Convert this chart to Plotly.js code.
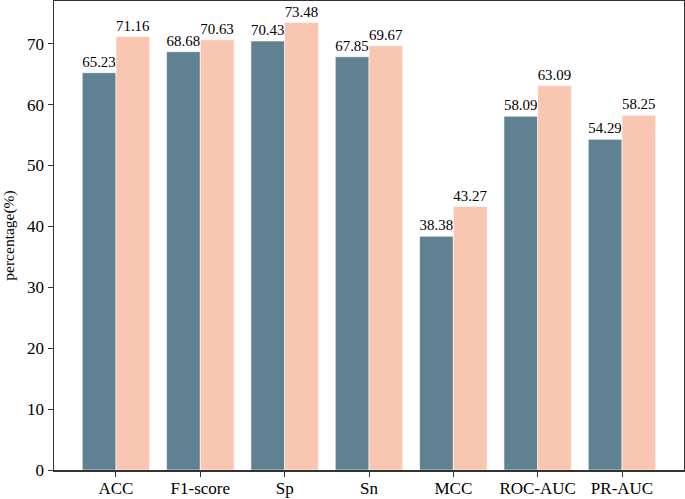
<!DOCTYPE html>
<html>
<head>
<meta charset="utf-8">
<script src="https://cdn.plot.ly/plotly-3.0.1.min.js"></script>
<style>html,body{margin:0;padding:0;background:#fff;}</style>
</head>
<body>
<div id="chart" style="width:685px;height:499px;"></div>
<script>
const categories = ["ACC", "F1-score", "Sp", "Sn", "MCC", "ROC-AUC", "PR-AUC"];
const seriesA = [65.23, 68.68, 70.43, 67.85, 38.38, 58.09, 54.29];
const seriesB = [71.16, 70.63, 73.48, 69.67, 43.27, 63.09, 58.25];
const yTicks = [0, 10, 20, 30, 40, 50, 60, 70];

const font = "Liberation Serif, Times New Roman, serif";
const fmt = v => v.toFixed(2);

const traces = [
  {
    type: "bar", x: categories, y: seriesA, name: "A",
    marker: {color: "#5f8191", line: {color: "#ffffff", width: 0.6}},
    text: seriesA.map(fmt), textposition: "outside", cliponaxis: false,
    textfont: {family: font, size: 15.5, color: "#000"}
  },
  {
    type: "bar", x: categories, y: seriesB, name: "B",
    marker: {color: "#f8c6b1", line: {color: "#ffffff", width: 0.6}},
    text: seriesB.map(fmt), textposition: "outside", cliponaxis: false,
    textfont: {family: font, size: 15.5, color: "#000"}
  }
];

const layout = {
  width: 685, height: 499,
  margin: {l: 54, r: 1, t: 1, b: 29, pad: 0},
  paper_bgcolor: "#fff", plot_bgcolor: "#fff",
  showlegend: false,
  barmode: "group", bargap: 0.2, bargroupgap: 0,
  font: {family: font, size: 15, color: "#000"},
  xaxis: {
    type: "category", range: [-0.735, 6.735],
    showline: true, linecolor: "#333", linewidth: 1.5, mirror: true,
    ticks: "outside", ticklen: 5, tickwidth: 1, tickcolor: "#333",
    ticklabelstandoff: -3,
    showgrid: false, zeroline: false,
    tickfont: {family: font, size: 17, color: "#000"}
  },
  yaxis: {
    range: [0, 77], tickvals: yTicks, ticktext: yTicks.map(String),
    showline: true, linecolor: "#333", linewidth: 1.5, mirror: true,
    ticks: "outside", ticklen: 5, tickwidth: 1, tickcolor: "#333",
    showgrid: false, zeroline: false,
    tickfont: {family: font, size: 17, color: "#000"},
    title: {text: "percentage(%)", font: {family: font, size: 15.5, color: "#000"}, standoff: 8}
  }
};

Plotly.newPlot("chart", traces, layout, {displayModeBar: false, staticPlot: true});
</script>
</body>
</html>
